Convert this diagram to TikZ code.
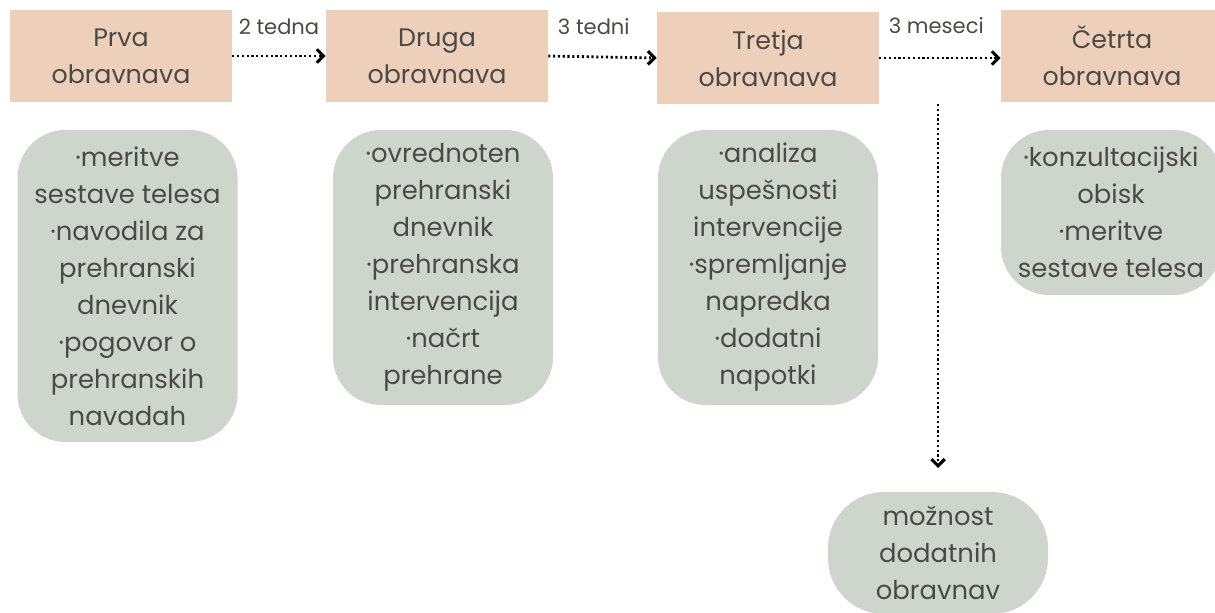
\documentclass[tikz,border=0pt]{standalone}
\usepackage{fontspec}
\setmainfont{Poppins}
\usetikzlibrary{arrows.meta}
\definecolor{peach}{HTML}{EECFBA}
\definecolor{sage}{HTML}{CDD5CC}
\definecolor{ink}{HTML}{4A4A48}
\tikzset{
  phase/.style={fill=peach, draw=none, minimum width=222*0.75pt, minimum height=92*0.75pt,
    inner sep=0pt, align=center, text=ink, font=\fontsize{19}{27.75}\selectfont},
  detail/.style={fill=sage, draw=none, rounded corners=36pt, minimum width=220*0.75pt,
    inner sep=0pt, align=center, text=ink, font=\fontsize{19.4}{27.75}\selectfont},
  gap/.style={line width=2.1pt, dash pattern=on 1.6pt off 2.0pt, draw=black,
    -{Straight Barb[length=5pt,width=10pt,line width=2.3pt]}},
  gaplabel/.style={text=ink, font=\fontsize{15.8}{18}\selectfont, inner sep=0pt}
}
\begin{document}
\begin{tikzpicture}[x=0.75pt,y=-0.75pt]
\clip (0,0) rectangle (1215,613);
\fill[white] (0,0) rectangle (1215,613);
\node[phase] (b1) at (121,56) {Prva\\obravnava};
\node[phase] (b2) at (437,56) {Druga\\obravnava};
\node[phase] (b3) at (768,58) {Tretja\\obravnava};
\node[phase] (b4) at (1112,56) {Četrta\\obravnava};

\node[detail, minimum height=312*0.75pt] (g1) at (127.5,286)
  {·meritve\\sestave telesa\\·navodila za\\prehranski\\dnevnik\\·pogovor o\\prehranskih\\navadah};
\node[detail, minimum height=275*0.75pt] (g2) at (443,267.5)
  {·ovrednoten\\prehranski\\dnevnik\\·prehranska\\intervencija\\·načrt\\prehrane};
\node[detail, minimum height=275*0.75pt] (g3) at (768,267.5)
  {·analiza\\uspešnosti\\intervencije\\·spremljanje\\napredka\\·dodatni\\napotki};
\node[detail, minimum height=165*0.75pt] (g4) at (1111,212.5)
  {·konzultacijski\\obisk\\·meritve\\sestave telesa};
\node[detail, minimum height=122*0.75pt, rounded corners=42pt] (g5) at (938,553)
  {možnost\\dodatnih\\obravnav};

\draw[gap] (b1.east) -- node[gaplabel, pos=0.5, yshift=22pt] (l1) {2 tedna} (b2.west);
\draw[gap] (b2.east) -- node[gaplabel, pos=0.42, yshift=23pt] (l2) {3 tedni} (b3.west);
\draw[gap] (b3.east) -- node[gaplabel, pos=0.47, yshift=24pt] (l3) {3 meseci} (b3.east -| b4.west);

\coordinate (vs) at (938,104);
\coordinate (ve) at (938,468);
\draw[gap] (vs) -- (ve);
\end{tikzpicture}
\end{document}
